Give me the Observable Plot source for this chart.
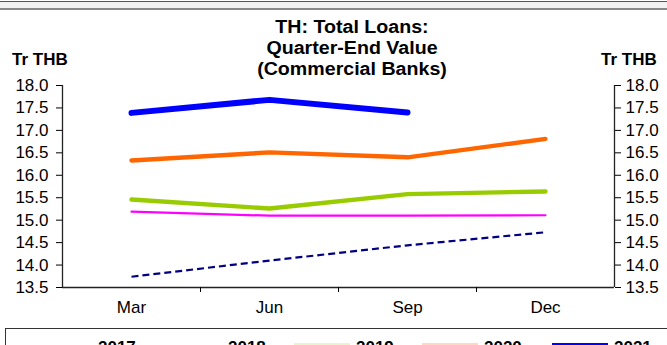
<!DOCTYPE html>
<html><head><meta charset="utf-8">
<script src="https://cdn.jsdelivr.net/npm/d3@7"></script>
<script src="https://cdn.jsdelivr.net/npm/@observablehq/plot@0.6"></script>
<style>
html,body{margin:0;padding:0;background:#fff;}
#wrap{position:relative;width:667px;height:345px;overflow:hidden;font-family:"Liberation Sans",Arial,sans-serif;color:#000;}
#topline{position:absolute;left:0;top:1px;width:667px;height:6px;border-top:1.5px solid #555;border-bottom:2px solid #8a8a8a;background:#f2f2f2;}
#title{position:absolute;left:252px;width:200px;top:16.6px;text-align:center;font-weight:bold;font-size:18px;line-height:21px;white-space:nowrap;transform:scaleX(1.09);transform-origin:50% 0;}
.unit{position:absolute;top:50.6px;font-weight:bold;font-size:17px;line-height:17px;white-space:nowrap;}
#chart{position:absolute;left:0;top:0;}
#legend{position:absolute;left:5px;top:328px;width:680px;height:40px;border:1.5px solid #333;box-sizing:border-box;}
.lg-text{position:absolute;top:0;font-weight:bold;font-size:17px;line-height:17px;white-space:nowrap;}
.lg-sw{position:absolute;}
</style></head><body>
<div id="wrap">
  <div id="topline"></div>
  <div id="title"></div>
  <div class="unit" style="left:12px">Tr THB</div>
  <div class="unit" style="left:601px">Tr THB</div>
  <div id="chart"></div>
  <div id="legend"></div>
</div>
<script>
const titleLines = ["TH: Total Loans:", "Quarter-End Value", "(Commercial Banks)"];
const months = ["Mar", "Jun", "Sep", "Dec"];
const years = ["2017", "2018", "2019", "2020", "2021"];
const v2017 = [13.74, 14.10, 14.44, 14.73];
const v2018 = [15.19, 15.10, 15.10, 15.11];
const v2019 = [15.46, 15.26, 15.58, 15.64];
const v2020 = [16.33, 16.51, 16.40, 16.81];
const v2021 = [17.39, 17.68, 17.40];
const yTicks = [13.5, 14.0, 14.5, 15.0, 15.5, 16.0, 16.5, 17.0, 17.5, 18.0];

const seriesValues = [v2017, v2018, v2019, v2020, v2021];
const seriesStyle = [
  {stroke: "#000080", strokeWidth: 2.2, strokeDasharray: "7,4", strokeLinecap: "butt"},
  {stroke: "#ff00ff", strokeWidth: 2.2, strokeLinecap: "round"},
  {stroke: "#99cc00", strokeWidth: 4.4, strokeLinecap: "round"},
  {stroke: "#ff6600", strokeWidth: 4.4, strokeLinecap: "round"},
  {stroke: "#0000ff", strokeWidth: 6, strokeLinecap: "round"}
];

document.getElementById("title").innerHTML = titleLines.map(t => `<div>${t}</div>`).join("");

const rows = (vals, year) => vals.map((v, i) => ({year, i, month: months[i], value: v}));
const fmt = d => d.toFixed(1);

const chart = Plot.plot({
  width: 667,
  height: 345,
  marginLeft: 62,
  marginRight: 53,
  marginTop: 85,
  marginBottom: 58,
  x: {type: "linear", domain: [-0.5, months.length - 0.5]},
  y: {domain: [yTicks[0], yTicks[yTicks.length - 1]]},
  style: {fontFamily: "'Liberation Sans', Arial, sans-serif", fontSize: "17px", color: "#000", background: "transparent", overflow: "visible"},
  marks: [
    ...seriesValues.map((vals, k) => Plot.line(rows(vals, years[k]), {x: "i", y: "value", ...seriesStyle[k]})),
    Plot.ruleY([yTicks[0]], {stroke: "#222", strokeWidth: 1.3}),
    Plot.ruleX([-0.5, months.length - 0.5], {stroke: "#222", strokeWidth: 1.3}),
    Plot.axisY({anchor: "left", ticks: yTicks, tickFormat: fmt, tickSize: 6, tickPadding: 8, label: null}),
    Plot.axisY({anchor: "right", ticks: yTicks, tickFormat: fmt, tickSize: 6, tickPadding: 5, label: null}),
    Plot.axisX({ticks: months.slice(1).map((_, i) => i + 0.5), tickFormat: () => "", tickSize: 5, label: null}),
    Plot.axisX({ticks: months.map((_, i) => i), tickFormat: i => months[i], tickSize: 0, tickPadding: 13, label: null})
  ]
});
document.getElementById("chart").appendChild(chart);

// legend
const legend = document.getElementById("legend");
const legendTextX = [92, 222, 350, 478, 608];
const swatchColors = ["#000080", "#ff00ff", "#eaf4cc", "#ffd8c2", "#0000ff"];
const swatchTop = [17, 17, 13.5, 13.5, 13.5];
const swatchH = [2, 2, 4, 4, 6];
years.forEach((y, k) => {
  const sw = document.createElement("div");
  sw.className = "lg-sw";
  sw.style.left = (legendTextX[k] - 62) + "px";
  sw.style.width = "56px";
  sw.style.top = swatchTop[k] + "px";
  sw.style.height = swatchH[k] + "px";
  sw.style.background = swatchColors[k];
  legend.appendChild(sw);
  const t = document.createElement("div");
  t.className = "lg-text";
  t.style.left = legendTextX[k] + "px";
  t.style.top = "10px";
  t.textContent = y;
  legend.appendChild(t);
});
</script>
</body></html>
